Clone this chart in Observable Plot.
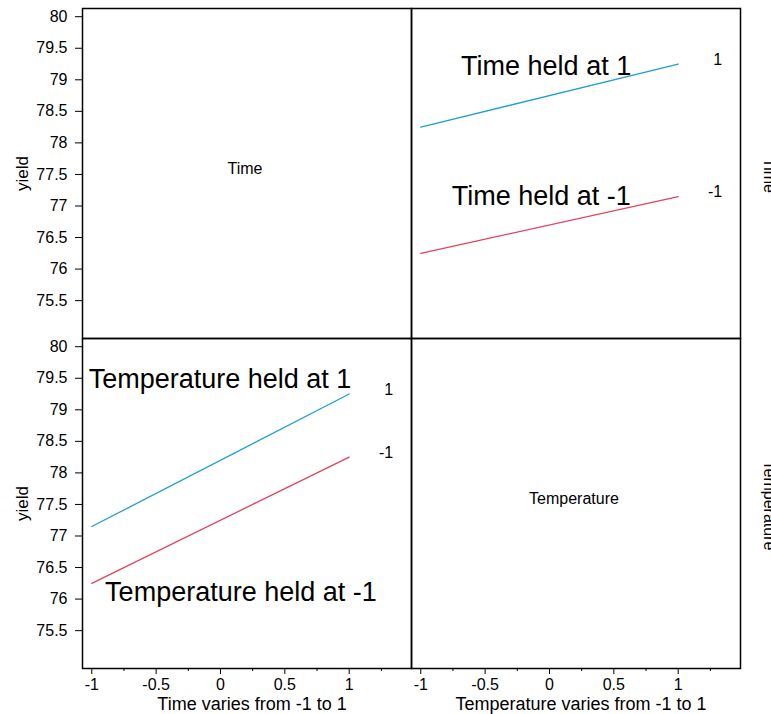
<!DOCTYPE html>
<html><head><meta charset="utf-8">
<script src="https://cdn.jsdelivr.net/npm/d3@7"></script>
<script src="https://cdn.jsdelivr.net/npm/@observablehq/plot@0.6"></script>
<style>
body{margin:0;background:#fff;}
#chart{width:771px;height:714px;overflow:hidden;}
</style>
</head><body><div id="chart"></div>
<script>
// factors of the 2x2 interaction plot matrix
const factors = ["Time", "Temperature"];
const heldLevels = [1, -1];
const levelColors = ["#1fa0cc", "#e2435b"];

// top-right panel: Temperature varies from -1 to 1, Time held at 1 / -1
const timeHeldAtTempMinus = [78.25, 76.25];
const timeHeldAtTempPlus  = [79.25, 77.15];
// bottom-left panel: Time varies from -1 to 1, Temperature held at 1 / -1
const tempHeldAtTimeMinus = [77.15, 76.25];
const tempHeldAtTimePlus  = [79.25, 78.25];

const yTicks = [80, 79.5, 79, 78.5, 78, 77.5, 77, 76.5, 76, 75.5];
const xTicks = [-1, -0.5, 0, 0.5, 1];
const xMinorTicks = [-0.75, -0.25, 0.25, 0.75, 1.25];
const xTitles = ["Time varies from -1 to 1", "Temperature varies from -1 to 1"];
const yTitle = "yield";

// in-panel annotations (data coordinates of each panel)
const annoText = ["Time held at 1", "Time held at -1", "Temperature held at 1", "Temperature held at -1"];
const annoX = [-0.026, -0.064, -0.004, 0.159];
const annoY = [79.21, 77.16, 79.49, 76.11];
const annoCol = ["Temperature", "Temperature", "Time", "Time"];
const annoRow = ["Time", "Time", "Temperature", "Temperature"];

// build tables
const lines = [];
heldLevels.forEach((lv, i) => {
  lines.push({col: "Temperature", row: "Time", level: lv, x: -1, y: timeHeldAtTempMinus[i]});
  lines.push({col: "Temperature", row: "Time", level: lv, x: 1, y: timeHeldAtTempPlus[i]});
  lines.push({col: "Time", row: "Temperature", level: lv, x: -1, y: tempHeldAtTimeMinus[i]});
  lines.push({col: "Time", row: "Temperature", level: lv, x: 1, y: tempHeldAtTimePlus[i]});
});
const ends = lines.filter(d => d.x === 1);
const annos = annoText.map((t, i) => ({text: t, x: annoX[i], y: annoY[i], col: annoCol[i], row: annoRow[i]}));
const diag = factors.map(f => ({col: f, row: f, label: f}));
const strips = factors.map(f => ({col: "Temperature", row: f, label: f}));
const leftCol = factors.map(f => ({col: "Time", row: f}));
const bottomRow = factors.map((f, i) => ({col: f, row: "Temperature", label: xTitles[i]}));

const font = "Liberation Sans, Arial, Helvetica, sans-serif";

const chart = Plot.plot({
  width: 771,
  height: 714,
  marginLeft: 81,
  marginRight: 31,
  marginTop: 7,
  marginBottom: 46,
  style: {fontFamily: font, fontSize: "16px", background: "white", color: "black"},
  fx: {domain: factors, padding: 0, axis: null},
  fy: {domain: factors, padding: 0, axis: null},
  x: {domain: [-1.072, 1.484]},
  y: {domain: [74.9, 80.13]},
  color: {domain: heldLevels, range: levelColors},
  marks: [
    Plot.axisY({ticks: yTicks, anchor: "left", facetAnchor: "left", tickSize: 7, tickPadding: 8,
      tickFormat: d => String(d), label: null, fontSize: 16}),
    Plot.axisX({ticks: xTicks, anchor: "bottom", facetAnchor: "bottom", tickSize: 6, tickPadding: 4,
      tickFormat: d => String(d), label: null, fontSize: 16}),
    Plot.axisX({ticks: xMinorTicks, anchor: "bottom", facetAnchor: "bottom", tickSize: 3,
      tickFormat: () => "", label: null}),
    Plot.line(lines, {fx: "col", fy: "row", x: "x", y: "y", z: "level", stroke: "level", strokeWidth: 1.3}),
    Plot.text(ends, {fx: "col", fy: "row", x: "x", y: "y", text: d => String(d.level),
      textAnchor: "end", lineAnchor: "middle", dx: 44, dy: -4.5, fontSize: 16}),
    Plot.text(annos, {fx: "col", fy: "row", x: "x", y: "y", text: "text",
      textAnchor: "middle", lineAnchor: "middle", fontSize: 27}),
    Plot.text(diag, {fx: "col", fy: "row", text: "label", frameAnchor: "middle",
      textAnchor: "middle", lineAnchor: "middle", dx: -2, dy: -5, fontSize: 16}),
    Plot.text(strips, {fx: "col", fy: "row", text: "label", frameAnchor: "right",
      textAnchor: "middle", lineAnchor: "bottom", rotate: 90, dx: 23, dy: 2, fontSize: 16}),
    Plot.text(leftCol, {fx: "col", fy: "row", text: () => yTitle, frameAnchor: "left",
      textAnchor: "middle", lineAnchor: "middle", rotate: -90, dx: -60, fontSize: 17}),
    Plot.text(bottomRow, {fx: "col", fy: "row", text: "label", frameAnchor: "bottom",
      textAnchor: "middle", lineAnchor: "bottom", dx: 5, dy: 41, fontSize: 18}),
    Plot.frame({stroke: "black", strokeWidth: 1.5})
  ]
});
document.getElementById("chart").appendChild(chart);
</script>
</body></html>
